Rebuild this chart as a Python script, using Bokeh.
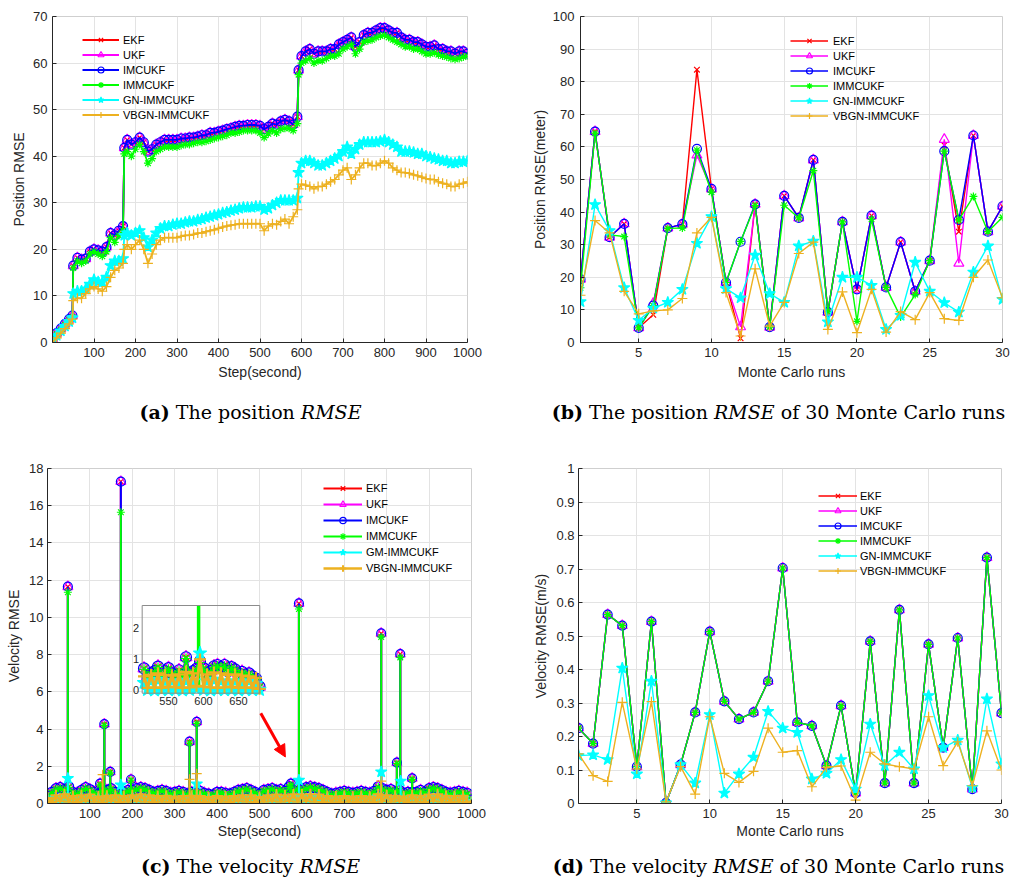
from bokeh.plotting import figure
from bokeh.models import (Range1d, FixedTicker, Legend, LegendItem, Div, Arrow,
                          NormalHead, ColumnDataSource, NumeralTickFormatter)
from bokeh.core.properties import value
from bokeh.layouts import column, row
from bokeh.embed import file_html
from bokeh.resources import INLINE

# ------------------------------------------------------------------ data
names_ab = ["EKF", "UKF", "IMCUKF", "IMMCUKF", "GN-IMMCUKF", "VBGN-IMMCUKF"]
names_c = ["EKF", "UKF", "IMCUKF", "IMMCUKF", "GM-IMMCUKF", "VBGN-IMMCUKF"]
colors = ["#FF0000", "#FF00FF", "#0000FF", "#00FF00", "#00FFFF", "#EDB120"]
markers = ["x", "triangle", "circle", "asterisk", "star", "cross"]

# (a) position RMSE over time
pos_steps = [0, 10, 20, 30, 40, 48, 50, 60, 70, 80, 90,
             100, 110, 120, 130, 140, 150, 160, 170, 173, 180, 190,
             200, 210, 220, 230, 240, 250, 260, 270, 280, 290,
             300, 310, 320, 330, 340, 350, 360, 370, 380, 390,
             400, 410, 420, 430, 440, 450, 460, 470, 480, 490,
             500, 510, 520, 530, 540, 550, 560, 570, 580, 590, 593,
             600, 610, 620, 630, 640, 650, 660, 670, 680, 690,
             700, 710, 720, 730, 740, 750, 760, 770, 780, 790,
             800, 810, 820, 830, 840, 850, 860, 870, 880, 890,
             900, 910, 920, 930, 940, 950, 960, 970, 980, 990,
             1000]
pos_imcukf = [0.8, 2.0, 3.0, 4.0, 5.0, 5.8, 16.5, 18.2, 17.8, 18.0, 19.5,
              20.0, 19.8, 19.5, 20.5, 23.5, 23.0, 24.0, 25.0, 41.8, 43.5, 42.5,
              43.0, 44.0, 43.0, 41.0, 41.5, 42.5, 43.0, 43.5, 43.5, 43.5,
              43.5, 43.8, 43.8, 44.0, 44.0, 44.2, 44.5, 44.5, 45.0, 45.0,
              45.3, 45.5, 45.8, 46.0, 46.3, 46.5, 46.5, 46.7, 46.7, 46.7,
              46.5, 45.8, 46.3, 47.0, 46.8, 47.5, 47.8, 47.5, 46.8, 48.5, 58.5,
              61.5, 62.5, 63.0, 62.0, 62.5, 62.5, 62.5, 63.0, 63.0, 64.0,
              64.5, 65.0, 65.5, 63.5, 64.5, 66.0, 66.5, 66.5, 67.0, 67.5,
              67.5, 67.0, 66.5, 66.5, 65.5, 65.0, 65.0, 64.5, 64.5, 64.0,
              63.5, 63.5, 63.8, 63.0, 63.0, 62.5, 62.5, 62.0, 62.5, 62.5,
              62.0]
pos_ekf = list(pos_imcukf)   # visually identical to IMCUKF
pos_ukf = list(pos_imcukf)   # visually identical to IMCUKF
pos_immcukf = [0.5, 1.8, 2.8, 3.8, 4.8, 5.5, 16.0, 17.5, 17.0, 17.5, 19.0,
               19.5, 19.0, 18.5, 19.5, 22.5, 21.5, 23.0, 24.0, 40.5, 41.0, 40.0,
               41.5, 42.5, 41.0, 38.5, 39.5, 41.0, 41.5, 42.0, 42.0, 42.0,
               42.0, 42.3, 42.5, 42.5, 42.8, 43.0, 43.0, 43.2, 43.5, 43.8,
               44.0, 44.3, 44.5, 45.0, 45.0, 45.2, 45.5, 45.5, 45.5, 45.5,
               45.0, 44.0, 44.8, 45.5, 45.0, 45.8, 46.0, 46.0, 45.5, 47.0, 57.5,
               60.0, 60.5, 61.0, 60.0, 60.5, 60.5, 61.0, 61.5, 61.5, 62.0,
               63.0, 63.5, 64.0, 62.0, 63.0, 64.5, 64.8, 65.0, 65.5, 65.8,
               66.0, 65.5, 65.0, 64.5, 64.0, 63.5, 63.5, 63.0, 63.0, 62.5,
               62.0, 62.0, 62.2, 61.8, 61.5, 61.3, 61.0, 60.8, 61.0, 61.3,
               61.5]
pos_gn = [0.3, 1.5, 2.5, 3.5, 4.5, 5.3, 10.5, 11.0, 11.0, 11.5, 12.5,
          13.5, 13.0, 13.0, 14.0, 16.5, 17.5, 17.5, 18.0, 23.0, 23.5, 23.0,
          23.5, 24.0, 22.5, 20.5, 22.0, 23.5, 24.5, 25.0, 25.0, 25.3,
          25.5, 25.5, 25.8, 26.0, 26.0, 26.3, 26.5, 26.8, 27.0, 27.3,
          27.5, 27.8, 28.0, 28.3, 28.5, 28.8, 29.0, 29.0, 29.0, 29.2,
          29.2, 28.5, 28.8, 29.5, 30.0, 30.5, 30.5, 30.5, 30.5, 31.0, 36.5,
          38.5, 39.0, 39.0, 38.5, 38.0, 38.0, 38.5, 39.0, 39.5, 40.0,
          41.0, 42.0, 40.5, 41.5, 42.5, 43.0, 43.0, 43.0, 43.0, 43.2,
          43.5, 43.0, 42.5, 42.0, 41.0, 41.0, 41.0, 40.8, 40.5, 40.5,
          40.0, 39.8, 39.5, 39.3, 39.0, 39.0, 38.5, 38.5, 38.8, 38.8,
          39.0]
pos_vbgn = [0.0, 1.0, 2.0, 3.0, 4.0, 5.0, 9.0, 9.5, 9.5, 10.5, 11.5,
            12.0, 11.5, 11.0, 12.0, 14.0, 15.5, 16.0, 17.0, 20.0, 21.0, 20.0,
            21.0, 22.0, 20.0, 17.0, 19.0, 21.0, 22.0, 22.5, 22.5, 22.5,
            22.5, 22.8, 23.0, 23.0, 23.2, 23.5, 23.5, 23.8, 24.0, 24.2,
            24.5, 24.8, 25.0, 25.2, 25.3, 25.5, 25.5, 25.5, 25.5, 25.5,
            25.5, 24.0, 25.0, 25.5, 25.3, 26.0, 26.5, 25.5, 27.0, 28.5, 33.0,
            34.0, 33.8, 33.5, 33.0, 33.5, 33.5, 34.0, 34.5, 35.0, 36.0,
            37.0, 37.5, 35.0, 36.0, 37.5, 38.5, 38.5, 38.0, 38.0, 38.5,
            39.0, 38.5, 37.5, 37.0, 36.5, 36.5, 36.3, 36.0, 35.8, 35.5,
            35.2, 35.0, 35.0, 34.5, 34.2, 34.0, 33.5, 33.5, 34.0, 34.2,
            34.5]

# (b) position RMSE of 30 Monte Carlo runs
runs = list(range(1, 31))
pos30_imcukf = [19.4, 64.7, 32.3, 36.4, 4.5, 11.3, 35.1, 36.3, 59.4, 47.1,
                18.4, 30.9, 42.4, 4.7, 45.0, 38.2, 56.0, 9.3, 37.0, 16.3,
                38.9, 16.9, 30.8, 15.7, 25.1, 58.7, 37.6, 63.5, 34.0, 41.8]
pos30_ekf = [19.4, 64.7, 32.3, 36.4, 4.5, 8.5, 35.1, 36.3, 83.7, 47.1,
             18.4, 1.3, 42.4, 4.7, 45.0, 38.2, 56.0, 9.3, 37.0, 16.3,
             38.9, 16.9, 30.8, 15.7, 25.1, 60.5, 34.0, 63.5, 34.0, 41.8]
pos30_ukf = [19.4, 64.7, 32.3, 36.4, 4.5, 12.0, 35.1, 36.3, 57.5, 47.1,
             18.4, 4.8, 42.4, 4.7, 45.0, 38.2, 56.0, 9.3, 37.0, 16.3,
             38.9, 16.9, 30.8, 15.7, 25.1, 62.3, 24.3, 63.5, 34.0, 41.8]
pos30_immcukf = [16.8, 64.2, 33.0, 32.5, 4.5, 11.3, 35.0, 35.1, 59.0, 46.1,
                 18.4, 31.0, 42.0, 4.7, 42.1, 38.2, 52.7, 9.5, 37.0, 6.5,
                 37.8, 16.9, 7.8, 14.7, 25.1, 58.7, 37.6, 44.8, 34.0, 38.4]
pos30_gn = [12.5, 42.3, 34.3, 16.8, 6.8, 10.5, 12.3, 16.3, 30.4, 38.6,
            16.5, 13.7, 26.8, 15.0, 12.3, 29.6, 31.1, 6.3, 20.0, 20.0,
            17.5, 4.0, 8.3, 24.6, 15.7, 12.2, 9.3, 21.6, 29.6, 13.2]
pos30_vbgn = [14.5, 37.4, 33.6, 15.7, 8.8, 9.7, 10.0, 13.5, 33.6, 38.4,
              15.3, 2.0, 22.6, 5.0, 12.3, 27.3, 30.8, 4.0, 15.5, 3.0,
              16.3, 3.2, 9.5, 7.0, 15.3, 7.3, 6.8, 20.0, 25.3, 13.7]

# (c) velocity RMSE over time (dense band sampled every 10 steps + spikes)
vel_steps = list(range(0, 1001, 10))
vel_imcukf = [0.40, 0.60, 0.80, 0.85, 0.75, 0.90, 0.60, 0.55, 0.70, 0.85,
              0.75, 0.60, 0.50, 0.70, 0.70, 0.80, 0.60, 0.50, 0.60, 0.70,
              0.70, 0.80, 0.85, 0.80, 0.70, 0.60, 0.65, 0.70, 0.65, 0.55,
              0.60, 0.65, 0.60, 0.50, 0.60, 0.60, 0.65, 0.55, 0.50, 0.45,
              0.60, 0.60, 0.55, 0.50, 0.60, 0.70, 0.75, 0.80, 0.70, 0.60,
              0.50, 0.70, 0.75, 0.80, 0.70, 0.75, 0.65, 0.90, 0.70, 0.80,
              0.75, 0.85, 0.90, 0.85, 0.80, 0.70, 0.60, 0.50, 0.55, 0.60,
              0.65, 0.60, 0.55, 0.60, 0.65, 0.60, 0.55, 0.65, 0.90, 0.80,
              0.70, 0.75, 0.60, 0.70, 0.55, 0.60, 0.60, 0.60, 0.70, 0.60,
              0.80, 0.85, 0.80, 0.70, 0.60, 0.55, 0.60, 0.65, 0.60, 0.55,
              0.20]
vel_ekf = list(vel_imcukf)
vel_ukf = list(vel_imcukf)
vel_immcukf = [0.36, 0.56, 0.76, 0.80, 0.70, 0.86, 0.56, 0.50, 0.66, 0.80,
               0.70, 0.56, 0.46, 0.66, 0.66, 0.76, 0.56, 0.46, 0.56, 0.66,
               0.66, 0.76, 0.80, 0.76, 0.66, 0.56, 0.60, 0.66, 0.60, 0.50,
               0.56, 0.60, 0.56, 0.46, 0.56, 0.56, 0.60, 0.50, 0.46, 0.42,
               0.56, 0.56, 0.50, 0.46, 0.56, 0.66, 0.70, 0.76, 0.66, 0.56,
               0.46, 0.66, 0.70, 0.76, 0.66, 0.70, 0.60, 0.86, 0.66, 0.76,
               0.70, 0.80, 0.86, 0.80, 0.76, 0.66, 0.56, 0.46, 0.50, 0.56,
               0.60, 0.56, 0.50, 0.56, 0.60, 0.56, 0.50, 0.60, 0.86, 0.76,
               0.66, 0.70, 0.56, 0.66, 0.50, 0.56, 0.56, 0.56, 0.66, 0.56,
               0.76, 0.80, 0.76, 0.66, 0.56, 0.50, 0.56, 0.60, 0.56, 0.50,
               0.16]
vel_gn = [0.20, 0.01, 0.30, 0.02, 0.32, 0.00, 0.25, 0.02, 0.30, 0.01,
          0.32, 0.02, 0.25, 0.00, 0.30, 0.02, 0.28, 0.01, 0.25, 0.02,
          0.30, 0.00, 0.32, 0.02, 0.30, 0.01, 0.25, 0.02, 0.28, 0.00,
          0.25, 0.02, 0.28, 0.01, 0.30, 0.02, 0.28, 0.00, 0.25, 0.02,
          0.28, 0.01, 0.25, 0.02, 0.28, 0.00, 0.30, 0.02, 0.32, 0.01,
          0.25, 0.02, 0.30, 0.00, 0.32, 0.02, 0.30, 0.01, 0.35, 0.02,
          0.32, 0.00, 0.35, 0.02, 0.32, 0.01, 0.28, 0.02, 0.25, 0.00,
          0.28, 0.02, 0.25, 0.01, 0.28, 0.02, 0.25, 0.00, 0.35, 0.02,
          0.30, 0.01, 0.28, 0.02, 0.25, 0.00, 0.30, 0.02, 0.28, 0.01,
          0.32, 0.02, 0.35, 0.00, 0.30, 0.02, 0.28, 0.01, 0.28, 0.02,
          0.05]
vel_vbgn = [0.30, 0.08, 0.45, 0.12, 0.50, 0.10, 0.40, 0.08, 0.45, 0.12,
            0.48, 0.10, 0.38, 0.06, 0.42, 0.12, 0.45, 0.08, 0.40, 0.10,
            0.45, 0.12, 0.50, 0.10, 0.45, 0.08, 0.40, 0.10, 0.42, 0.08,
            0.38, 0.10, 0.40, 0.06, 0.42, 0.10, 0.40, 0.08, 0.35, 0.06,
            0.40, 0.10, 0.38, 0.08, 0.40, 0.12, 0.45, 0.10, 0.45, 0.08,
            0.35, 0.10, 0.45, 0.12, 0.48, 0.10, 0.45, 0.12, 0.50, 0.10,
            0.48, 0.12, 0.50, 0.10, 0.48, 0.08, 0.40, 0.06, 0.38, 0.08,
            0.40, 0.10, 0.38, 0.08, 0.40, 0.10, 0.38, 0.08, 0.50, 0.12,
            0.45, 0.10, 0.42, 0.12, 0.38, 0.08, 0.45, 0.10, 0.42, 0.08,
            0.48, 0.12, 0.50, 0.10, 0.42, 0.08, 0.40, 0.10, 0.42, 0.08,
            0.10]
spike_steps = [48, 124, 134, 148, 173, 197, 335, 352, 574, 593, 787, 824, 832, 860]
spike_imcukf = [11.65, 1.07, 4.27, 1.70, 17.30, 1.29, 3.32, 4.39, 1.07, 10.75, 9.14, 2.20, 8.03, 1.35]
spike_ekf = list(spike_imcukf)
spike_ukf = list(spike_imcukf)
spike_immcukf = [11.35, 1.00, 4.20, 1.65, 15.65, 1.25, 3.25, 4.30, 1.00, 10.45, 8.95, 2.15, 7.85, 1.30]
spike_gn_steps = [48, 173, 352, 593, 787, 833]
spike_gn = [1.35, 1.00, 1.05, 1.25, 1.70, 1.20]
spike_vbgn_steps = [130, 335, 352, 787]
spike_vbgn = [1.55, 1.30, 1.60, 1.20]

# (c) inset (zoom of steps 513-680)
inset_steps = list(range(515, 681, 5))
inset_imcukf = [0.71, 0.45, 0.55, 0.62, 0.77, 0.50, 0.62, 0.72, 0.55, 0.52,
                0.65, 0.50, 1.07, 0.55, 0.62, 0.70, 0.95, 0.72, 0.55, 0.62,
                0.78, 0.82, 0.75, 0.82, 0.62, 0.75, 0.68, 0.55, 0.60, 0.50,
                0.55, 0.45, 0.38, 0.12]
inset_immcukf = [0.68, 0.42, 0.52, 0.58, 0.74, 0.47, 0.58, 0.68, 0.52, 0.48,
                 0.62, 0.47, 1.03, 0.52, 0.58, 0.66, 0.90, 0.68, 0.52, 0.58,
                 0.74, 0.78, 0.72, 0.78, 0.58, 0.72, 0.64, 0.52, 0.56, 0.47,
                 0.52, 0.42, 0.35, 0.10]
inset_gn = [0.25, 0.02, 0.30, 0.00, 0.35, 0.02, 0.28, 0.01, 0.30, 0.02,
            0.25, 0.00, 0.32, 0.02, 0.30, 0.05, 1.20, 0.02, 0.30, 0.00,
            0.35, 0.02, 0.30, 0.01, 0.28, 0.02, 0.30, 0.00, 0.25, 0.02,
            0.30, 0.01, 0.22, 0.02]
inset_vbgn = [0.45, 0.08, 0.50, 0.10, 0.55, 0.08, 0.50, 0.12, 0.48, 0.10,
              0.52, 0.08, 0.60, 0.10, 0.55, 0.15, 1.00, 0.12, 0.52, 0.10,
              0.58, 0.08, 0.55, 0.10, 0.50, 0.12, 0.52, 0.08, 0.48, 0.10,
              0.45, 0.08, 0.40, 0.05]
inset_spike_step = [593]
inset_spike_top = [2.74]
inset_xlim = [512.4, 680.4]
inset_ylim = [-0.09, 2.74]
inset_xticks = [550, 600, 650]
inset_yticks = [0, 1, 2]
arrow_x = [503, 561]
arrow_y = [4.85, 2.5]

# (d) velocity RMSE of 30 Monte Carlo runs
vel30_imcukf = [0.225, 0.179, 0.564, 0.531, 0.110, 0.543, 0.002, 0.116, 0.272, 0.513,
                0.305, 0.252, 0.272, 0.365, 0.703, 0.242, 0.232, 0.113, 0.292, 0.031,
                0.484, 0.061, 0.578, 0.061, 0.475, 0.167, 0.494, 0.043, 0.734, 0.270]
vel30_ekf = list(vel30_imcukf)
vel30_ukf = list(vel30_imcukf)
vel30_immcukf = list(vel30_imcukf)
vel30_gn = [0.143, 0.145, 0.131, 0.404, 0.088, 0.365, 0.002, 0.116, 0.061, 0.265,
            0.031, 0.088, 0.138, 0.275, 0.225, 0.212, 0.073, 0.090, 0.131, 0.043,
            0.237, 0.113, 0.153, 0.103, 0.322, 0.167, 0.189, 0.048, 0.312, 0.118]
vel30_vbgn = [0.148, 0.083, 0.066, 0.302, 0.103, 0.304, 0.005, 0.110, 0.028, 0.259,
              0.090, 0.063, 0.096, 0.225, 0.153, 0.158, 0.050, 0.108, 0.112, 0.010,
              0.153, 0.118, 0.110, 0.103, 0.259, 0.113, 0.184, 0.053, 0.217, 0.100]

ticks_steps = [100, 200, 300, 400, 500, 600, 700, 800, 900, 1000]
ticks_runs = [5, 10, 15, 20, 25, 30]
yticks_a = [0, 10, 20, 30, 40, 50, 60, 70]
yticks_b = [0, 10, 20, 30, 40, 50, 60, 70, 80, 90, 100]
yticks_c = [0, 2, 4, 6, 8, 10, 12, 14, 16, 18]
yticks_d = [0, 0.1, 0.2, 0.3, 0.4, 0.5, 0.6, 0.7, 0.8, 0.9, 1]

# ------------------------------------------------------------------ style
FONT = "Liberation Sans"
AX = "#262626"
GRID = "#e3e3e3"
sizes = [8, 10, 9, 8, 12, 10]
fills = [None, None, None, None, "#00FFFF", None]


def make_fig(w, h, xr, yr, left, right, top, bottom):
    p = figure(width=w, height=h, x_range=Range1d(*xr), y_range=Range1d(*yr),
               output_backend="svg", toolbar_location=None,
               min_border_left=left, min_border_right=right,
               min_border_top=top, min_border_bottom=bottom)
    p.outline_line_color = "#cfcfcf"
    p.background_fill_color = "white"
    p.border_fill_color = "white"
    return p


def style(p, xticks, yticks, xlabel, ylabel, xls, yls, ystand):
    p.xaxis.ticker = FixedTicker(ticks=xticks)
    p.yaxis.ticker = FixedTicker(ticks=yticks)
    p.xgrid.ticker = FixedTicker(ticks=xticks)
    p.ygrid.ticker = FixedTicker(ticks=yticks)
    p.xgrid.grid_line_color = GRID
    p.ygrid.grid_line_color = GRID
    p.xaxis.axis_label = xlabel
    p.yaxis.axis_label = ylabel
    for ax in (p.xaxis[0], p.yaxis[0]):
        ax.axis_line_color = AX
        ax.major_tick_line_color = AX
        ax.major_tick_in = 4
        ax.major_tick_out = 0
        ax.minor_tick_line_color = None
        ax.major_label_text_font = FONT
        ax.major_label_text_font_size = "13px"
        ax.major_label_text_color = AX
        ax.axis_label_text_font = FONT
        ax.axis_label_text_font_size = "14px"
        ax.axis_label_text_font_style = "normal"
        ax.axis_label_text_color = AX
    p.xaxis.major_label_standoff = 5
    p.xaxis.axis_label_standoff = xls
    p.yaxis.major_label_standoff = ystand
    p.yaxis.axis_label_standoff = yls


def add_series(p, x, y, i, lw, size=None, mlw=1.2, **kw):
    src = ColumnDataSource(dict(x=x, y=y))
    l = p.line("x", "y", source=src, line_color=colors[i], line_width=lw, **kw)
    s = p.scatter("x", "y", source=src, marker=markers[i], size=size or sizes[i],
                  line_color=colors[i], fill_color=fills[i], line_width=mlw, **kw)
    return [l, s]


def add_legend(p, rends, labels, loc, gw, gh, standoff):
    items = [LegendItem(label=lab, renderers=r) for lab, r in zip(labels, rends)]
    lg = Legend(items=items, location=loc, orientation="vertical", padding=0,
                margin=0, spacing=0, glyph_width=gw, glyph_height=gh,
                label_height=gh, label_standoff=standoff,
                label_text_font=FONT, label_text_font_size="11px",
                label_text_color="#000000",
                border_line_alpha=0, background_fill_alpha=0)
    p.add_layout(lg)


def caption(html, shift):
    st = ("font-family:'DejaVu Serif';font-size:19px;color:#000;"
          "text-align:center;line-height:40px;width:511px;"
          f"position:relative;left:{shift}px;white-space:nowrap")
    return Div(text=f'<div style="{st}">{html}</div>', width=511, height=40,
               margin=(0, 0, 0, 0))


# ------------------------------------------------------------------ (a)
pa = make_fig(511, 392, (0, 1000), (0, 70), 52, 44, 16, 49)
style(pa, ticks_steps, yticks_a, "Step(second)", "Position RMSE", 4, 3, 5)
ra = []
for i, ys in enumerate([pos_ekf, pos_ukf, pos_imcukf, pos_immcukf, pos_gn, pos_vbgn]):
    ra.append(add_series(pa, pos_steps, ys, i, 1.8))
add_legend(pa, ra, names_ab, (30, 220), 37, 15, 4)

# ------------------------------------------------------------------ (b)
pb = make_fig(511, 392, (1, 30), (0, 100), 69, 20, 9, 50)
style(pb, ticks_runs, yticks_b, "Monte Carlo runs", "Position RMSE(meter)", 4, 2, 6)
rb = []
for i, ys in enumerate([pos30_ekf, pos30_ukf, pos30_imcukf, pos30_immcukf, pos30_gn, pos30_vbgn]):
    rb.append(add_series(pb, runs, ys, i, 1.4))
add_legend(pb, rb, names_ab, (210, 219), 38, 15, 5)

# ------------------------------------------------------------------ (c)
pc = make_fig(511, 414, (0, 1000), (0, 18), 47, 40, 36, 43)
style(pc, ticks_steps, yticks_c, "Step(second)", "Velocity RMSE", 2, 4, 4)
rc = []
base_c = [vel_ekf, vel_ukf, vel_imcukf, vel_immcukf, vel_gn, vel_vbgn]
spk_c = [(spike_steps, spike_ekf), (spike_steps, spike_ukf), (spike_steps, spike_imcukf),
         (spike_steps, spike_immcukf), (spike_gn_steps, spike_gn),
         (spike_vbgn_steps, spike_vbgn)]
for i, ys in enumerate(base_c):
    if i == 5:
        rc.append(add_series(pc, vel_steps, ys, i, 2.6, size=11, mlw=2))
    else:
        rc.append(add_series(pc, vel_steps, ys, i, 1.8, size=sizes[i] + 1))
    sx, sy = spk_c[i]
    ssrc = ColumnDataSource(dict(x=sx, y=sy, z=[0] * len(sx)))
    pc.segment(x0="x", y0="z", x1="x", y1="y", source=ssrc, line_color=colors[i],
               line_width=2)
    pc.scatter("x", "y", source=ssrc, marker=markers[i], size=sizes[i],
               line_color=colors[i], fill_color=fills[i], line_width=1.2)
add_legend(pc, rc, names_c, (276, 227), 39, 16, 4)

# inset drawn via extra ranges mapped onto a sub-box of the frame
box_fx = (0.2233, 0.5007)
box_fy = (0.3293, 0.5910)


def extra_range(lim, f):
    span = (lim[1] - lim[0]) / (f[1] - f[0])
    start = lim[0] - f[0] * span
    return Range1d(start, start + span)


pc.extra_x_ranges = {"ix": extra_range(inset_xlim, box_fx)}
pc.extra_y_ranges = {"iy": extra_range(inset_ylim, box_fy)}
ikw = dict(x_range_name="ix", y_range_name="iy")
for i, ys in enumerate([inset_imcukf, inset_imcukf, inset_imcukf, inset_immcukf,
                        inset_gn, inset_vbgn]):
    if i == 5:
        add_series(pc, inset_steps, ys, i, 3.0, size=12, mlw=2.2, **ikw)
    else:
        add_series(pc, inset_steps, ys, i, 1.8, size=sizes[i] + 2, **ikw)
    if i == 3:
        ssrc = ColumnDataSource(dict(x=inset_spike_step, y=inset_spike_top, z=[0]))
        pc.segment(x0="x", y0="z", x1="x", y1="y", source=ssrc,
                   line_color=colors[3], line_width=3.5, **ikw)
pc.quad(left=[inset_xlim[0]], right=[inset_xlim[1]], bottom=[inset_ylim[0]],
        top=[inset_ylim[1]], fill_alpha=0, line_color="#8c8c8c", line_width=1, **ikw)
pc.text(x=inset_xticks, y=[inset_ylim[0]] * len(inset_xticks),
        text=[str(t) for t in inset_xticks], text_font=value(FONT),
        text_font_size="11px", text_color=AX, text_align="center",
        text_baseline="top", y_offset=4, **ikw)
pc.text(x=[inset_xlim[0]] * len(inset_yticks), y=inset_yticks,
        text=[str(t) for t in inset_yticks], text_font=value(FONT),
        text_font_size="11px", text_color=AX, text_align="right",
        text_baseline="middle", x_offset=-3, **ikw)
pc.add_layout(Arrow(end=NormalHead(size=12, fill_color="#FF0000", line_color="#FF0000"),
                    x_start=arrow_x[0], y_start=arrow_y[0], x_end=arrow_x[1],
                    y_end=arrow_y[1], line_color="#FF0000", line_width=3))

# ------------------------------------------------------------------ (d)
pd_ = make_fig(511, 414, (1, 30), (0, 1), 67, 21, 36, 43)
style(pd_, ticks_runs, yticks_d, "Monte Carlo runs", "Velocity RMSE(m/s)", 2, 4, 4)
pd_.yaxis.formatter = NumeralTickFormatter(format="0.[0]")
rd = []
for i, ys in enumerate([vel30_ekf, vel30_ukf, vel30_imcukf, vel30_immcukf, vel30_gn, vel30_vbgn]):
    rd.append(add_series(pd_, runs, ys, i, 1.4))
add_legend(pd_, rd, names_ab, (240, 225), 39, 15, 3)

# ------------------------------------------------------------------ layout
cap_a = caption("<b>(a)</b> The position <i>RMSE</i>", -5)
cap_b = caption("<b>(b)</b> The position <i>RMSE</i> of 30 Monte Carlo runs", 12)
cap_c = caption("<b>(c)</b> The velocity <i>RMSE</i>", -5)
cap_d = caption("<b>(d)</b> The velocity <i>RMSE</i> of 30 Monte Carlo runs", 12)

layout = column(row(pa, pb), row(cap_a, cap_b), row(pc, pd_), row(cap_c, cap_d))
open("out.html", "w").write(file_html(layout, INLINE))
